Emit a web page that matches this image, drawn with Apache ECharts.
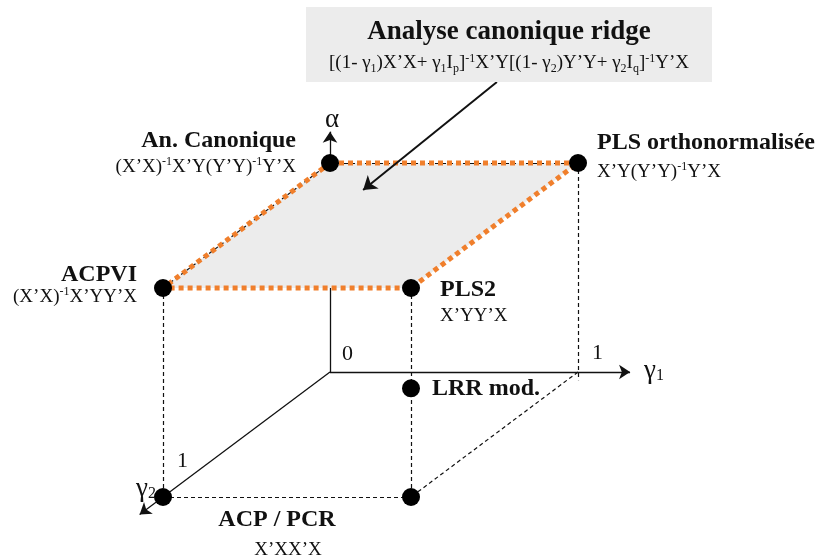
<!DOCTYPE html>
<html lang="fr">
<head>
    <meta http-equiv="Content-Type" Content="text/html; charset=utf-8">
    <script src="https://cdn.jsdelivr.net/npm/echarts@6/dist/echarts.min.js"></script>
    <style>
        html, body { margin:0; padding:0; background:#fff; }
        #main { width:823px; height:560px; }
    </style>
</head>
<body>
<div id="main"></div>
<script type="text/javascript">
    // methods placed in the (gamma1, gamma2, alpha) cube
    var names = ['An. Canonique', 'PLS orthonormalisée', 'ACPVI', 'PLS2', 'LRR mod.', 'ACP / PCR', ''];
    var formulas = [
        '{f|(X’X)}{s|-1}{f|X’Y(Y’Y)}{s|-1}{f|Y’X}',
        '{f|X’Y(Y’Y)}{s|-1}{f|Y’X}',
        '{f|(X’X)}{s|-1}{f|X’YY’X}',
        '{f|X’YY’X}',
        '',
        '{f|X’XX’X}',
        ''
    ];
    var gamma1 = [0, 1, 0, 1, 1, 0, 1];
    var gamma2 = [0, 0, 1, 1, 1, 1, 1];
    var alpha  = [1, 1, 1, 1, 0.52, 0, 0];

    // axis tick labels and axis names
    var tickText = ['0', '1', '1', '{g|γ}{sub|1}', '{g|γ}{sub|2}', '{g|α}'];
    var tickAt = [[0, 0, 0], [1, 0, 0], [0, 1, 0], [1.21, 0, 0], [0, 1, 0], [0, 0, 1.15]];

    // cube edges
    var hiddenEdges = [[[0, 0, 0], [0, 0, 1]]];
    var dashedEdges = [
        [[1, 0, 1], [1, 0, -0.04]],
        [[0, 1, 1], [0, 1, 0]],
        [[1, 1, 1], [1, 1, 0]],
        [[0, 1, 0], [1, 1, 0]],
        [[1, 0, 0], [1, 1, 0]],
        [[0, 0, 1], [1, 0, 1]],
        [[0, 0, 1], [0, 1, 1]]
    ];
    var axisEdges = [
        [[0, 0, 0], [1.21, 0, 0]],
        [[0, 0, 0], [0, 1.14, 0]],
        [[0, 0, 1], [0, 0, 1.15]]
    ];
    var ridgeFace = [[0, 0, 1], [1, 0, 1], [1, 1, 1], [0, 1, 1]];
    var calloutFrom = [0.673, 0, 1.388];
    var calloutTo = [0.279, 0.216, 1];

    var titleText = 'Analyse canonique ridge';
    var titleFormula = '{t|[(1- γ}{u|1}{t|)X’X+ γ}{u|1}{t|I}{u|p}{t|]}{p|-1}{t|X’Y[(1- γ}{u|2}{t|)Y’Y+ γ}{u|2}{t|I}{u|q}{t|]}{p|-1}{t|Y’X}';

    // oblique projection of the cube onto the page
    var ORIGIN = [330, 372], E1 = [248, 0], E2 = [-167, 125], E3 = [0, -209];
    function project(p) {
        return [ORIGIN[0] + p[0] * E1[0] + p[1] * E2[0] + p[2] * E3[0],
                ORIGIN[1] + p[0] * E1[1] + p[1] * E2[1] + p[2] * E3[1]];
    }

    var SERIF = '"Liberation Serif", "Times New Roman", serif';
    var INK = '#111';
    var DOT = 18;

    // label placement per point (styles only)
    var labelLayout = [
        {align: 'right', dx: -34, dy: -36.5, lh: 29},
        {align: 'left', dx: 19, dy: -37.5, lh: 35},
        {align: 'right', dx: -26, dy: -23.5, lh: 21},
        {align: 'left', dx: 29, dy: -12.5, lh: 29},
        {align: 'left', dx: 21, dy: -12, lh: 24},
        {align: 'center', dx: 114, dy: 4.5, lh: 37, pad: 22},
        {align: 'left', dx: 0, dy: 0, lh: 24}
    ];
    var tickLayout = [
        {align: 'left', dx: 12, dy: -17.5},
        {align: 'left', dx: 14, dy: -18.5},
        {align: 'left', dx: 14, dy: -35.5},
        {align: 'left', dx: 14, dy: -1},
        {align: 'left', dx: -27, dy: -8},
        {align: 'center', dx: 2, dy: -12}
    ];

    function richFor(align, lh, pad) {
        return {
            b: {fontFamily: SERIF, fontWeight: 'bold', fontSize: 24, lineHeight: lh, color: INK, align: align},
            f: {fontFamily: SERIF, fontSize: 19, lineHeight: 24, color: INK, align: align, padding: [0, 0, 0, pad || 0]},
            s: {fontFamily: SERIF, fontSize: 12, lineHeight: 16, verticalAlign: 'top', color: INK, align: align}
        };
    }

    function edgeData(list) {
        return list.map(function (e) {
            return {coords: [project(e[0]), project(e[1])]};
        });
    }

    var points = [];
    for (var i = 0; i < names.length; i++) {
        var lay = labelLayout[i];
        var txt = names[i] ? '{b|' + names[i] + '}' : '';
        if (formulas[i]) txt += '\n' + formulas[i];
        points.push({
            value: project([gamma1[i], gamma2[i], alpha[i]]),
            label: {
                show: txt !== '',
                formatter: txt,
                position: [DOT / 2 + lay.dx, DOT / 2 + lay.dy],
                align: lay.align,
                verticalAlign: 'top',
                rich: richFor(lay.align, lay.lh, lay.pad)
            }
        });
    }

    var ticks = [];
    for (var j = 0; j < tickText.length; j++) {
        var tl = tickLayout[j];
        ticks.push({
            value: project(tickAt[j]),
            label: {
                show: true,
                formatter: tickText[j],
                position: [tl.dx, tl.dy],
                align: tl.align,
                verticalAlign: 'middle',
                fontFamily: SERIF,
                fontSize: 22,
                color: INK,
                rich: {
                    g: {fontFamily: SERIF, fontSize: 27, lineHeight: 26, color: INK},
                    sub: {fontFamily: SERIF, fontSize: 16, lineHeight: 12, verticalAlign: 'bottom', color: INK}
                }
            }
        });
    }

    var faceLoop = ridgeFace.concat([ridgeFace[0]]).map(project);

    var myChart = echarts.init(document.getElementById('main'));
    myChart.setOption({
        animation: false,
        grid: {left: 0, right: 0, top: 0, bottom: 0},
        xAxis: {type: 'value', min: 0, max: 823, show: false},
        yAxis: {type: 'value', min: 0, max: 560, inverse: true, show: false},
        graphic: [
            {type: 'rect', z: 100, shape: {x: 306, y: 7, width: 406, height: 75}, style: {fill: '#ececec'}},
            {type: 'text', z: 101, x: 509, y: 32, style: {
                text: titleText, fill: INK, align: 'center', verticalAlign: 'middle',
                font: 'bold 27px ' + SERIF
            }},
            {type: 'text', z: 101, x: 509, y: 63.5, style: {
                text: titleFormula, align: 'center', verticalAlign: 'middle',
                rich: {
                    t: {fontFamily: SERIF, fontSize: 19, lineHeight: 22, fill: INK},
                    u: {fontFamily: SERIF, fontSize: 12, lineHeight: 10, verticalAlign: 'bottom', fill: INK},
                    p: {fontFamily: SERIF, fontSize: 12, lineHeight: 15, verticalAlign: 'top', fill: INK}
                }
            }}
        ],
        series: [
            {
                type: 'lines', coordinateSystem: 'cartesian2d', z: 1, silent: true,
                lineStyle: {color: INK, width: 1.3, type: 'solid', opacity: 1},
                data: edgeData(hiddenEdges)
            },
            {
                type: 'custom', z: 2, silent: true,
                data: [[0]],
                renderItem: function (params, api) {
                    var pts = ridgeFace.map(function (p) { return api.coord(project(p)); });
                    return {type: 'polygon', shape: {points: pts}, style: {fill: '#ececec'}};
                }
            },
            {
                type: 'lines', coordinateSystem: 'cartesian2d', z: 3, silent: true,
                lineStyle: {color: INK, width: 1.2, type: [4, 3], opacity: 1},
                data: edgeData(dashedEdges)
            },
            {
                type: 'lines', coordinateSystem: 'cartesian2d', z: 3, silent: true,
                symbol: ['none', 'arrow'], symbolSize: [0, 11],
                lineStyle: {color: INK, width: 1.3, type: 'solid', opacity: 1},
                data: edgeData(axisEdges)
            },
            {
                type: 'lines', coordinateSystem: 'cartesian2d', z: 4, silent: true, polyline: true,
                lineStyle: {color: '#f07f2c', width: 5, type: [5, 4], cap: 'butt', opacity: 1},
                data: [{coords: faceLoop}]
            },
            {
                type: 'scatter', z: 5, silent: true,
                symbol: 'circle', symbolSize: DOT,
                itemStyle: {color: '#000', opacity: 1},
                data: points
            },
            {
                type: 'scatter', z: 5, silent: true,
                symbolSize: 0,
                itemStyle: {color: '#000', opacity: 1},
                data: ticks
            },
            {
                type: 'lines', coordinateSystem: 'cartesian2d', z: 6, silent: true,
                symbol: ['none', 'arrow'], symbolSize: [0, 13],
                lineStyle: {color: INK, width: 2, type: 'solid', opacity: 1},
                data: [{coords: [project(calloutFrom), project(calloutTo)]}]
            }
        ]
    });
</script>
</body>
</html>
